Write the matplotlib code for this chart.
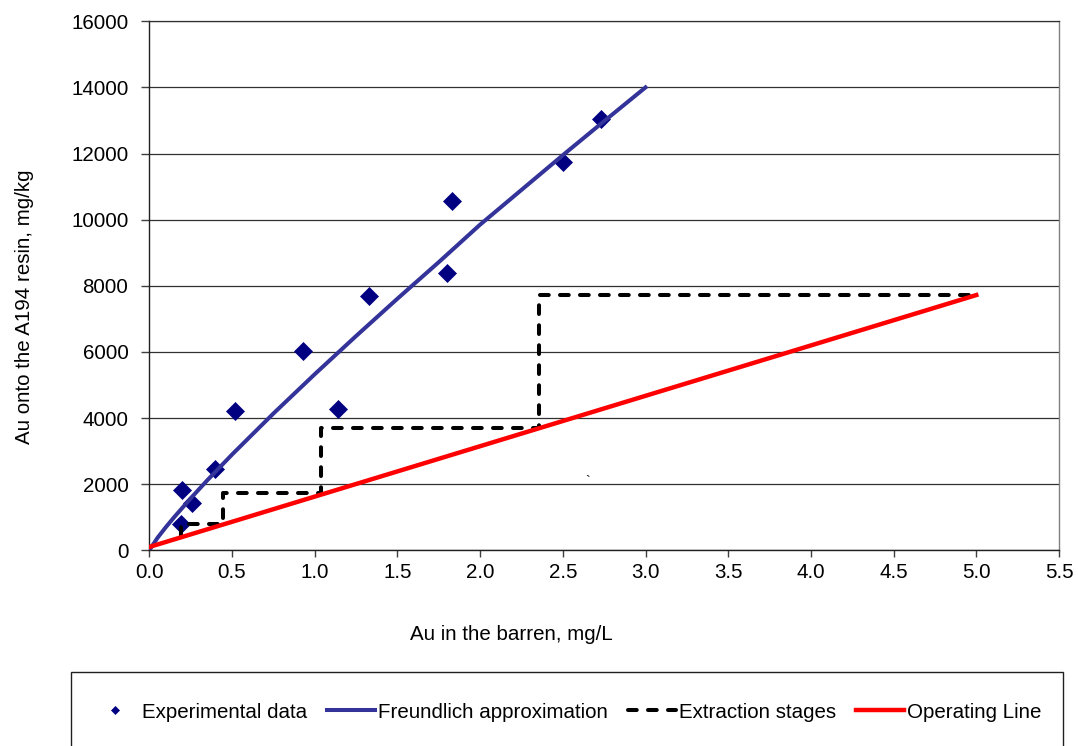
import matplotlib
matplotlib.use("Agg")
from matplotlib import pyplot as plt
from matplotlib.patches import Rectangle

plt.rcParams['font.family'] = ['Liberation Sans', 'DejaVu Sans']
plt.rcParams['lines.scale_dashes'] = False

# experimental points (Au in barren, Au on resin)
exp_x = [0.19, 0.20, 0.26, 0.40, 0.52, 0.93, 1.14, 1.33, 1.80, 1.83, 2.50, 2.73]
exp_y = [795, 1820, 1420, 2450, 4220, 6040, 4270, 7690, 8380, 10550, 11750, 13040]

# Freundlich approximation
fr_x = [0.0, 0.05, 0.1, 0.15, 0.25, 0.35, 0.5, 0.75, 1.0, 1.25, 1.5, 1.75,
        2.0, 2.25, 2.5, 2.75, 3.0]
fr_y = [0, 380, 700, 1000, 1570, 2115, 2895, 4135, 5325, 6480, 7610, 8715,
        9850, 10900, 11950, 12980, 14000]

# extraction stages staircase
st_x = [0.19, 0.19, 0.447, 0.447, 1.04, 1.04, 2.358, 2.358, 5.0]
st_y = [430, 795, 795, 1740, 1740, 3690, 3690, 7720, 7720]

# operating line
op_x = [0.0, 5.0]
op_y = [100, 7720]

x_ticks = [0.0, 0.5, 1.0, 1.5, 2.0, 2.5, 3.0, 3.5, 4.0, 4.5, 5.0, 5.5]
y_ticks = [0, 2000, 4000, 6000, 8000, 10000, 12000, 14000, 16000]

W, H = 1078, 746
fs = 14.8

fig = plt.figure(figsize=(W / 100, H / 100), dpi=100)
ax = fig.add_axes([149.3 / W, 1 - 550.3 / H, (1059 - 149.3) / W, (550.3 - 21.3) / H])

ax.plot(exp_x, exp_y, ls='none', marker='D', ms=9.6, color='#000080',
        mec='#000080', mew=0.5, label='Experimental data', zorder=3)
ax.plot(fr_x, fr_y, color='#333399', lw=2.9, label='Freundlich approximation',
        zorder=4, solid_joinstyle='round')
ax.plot(st_x, st_y, color='black', lw=2.9, dashes=(6.3, 8.1),
        dash_capstyle='round', solid_joinstyle='round',
        label='Extraction stages', zorder=5)
ax.plot(op_x, op_y, color='#ff0000', lw=3.2, label='Operating Line', zorder=6)

ax.set_xlim(0, 5.5)
ax.set_ylim(0, 16000)
ax.set_xticks(x_ticks)
ax.set_xticklabels([f"{v:.1f}" for v in x_ticks])
ax.set_yticks(y_ticks)
ax.set_yticklabels([str(v) for v in y_ticks])
ax.tick_params(axis='both', direction='out', labelsize=fs, colors='#404040',
               labelcolor='black', width=1)
ax.tick_params(axis='y', length=6, pad=9)
ax.tick_params(axis='x', length=5, pad=4)

ax.yaxis.grid(True, color='#303030', lw=0.9)
ax.set_axisbelow(True)
for side in ['left', 'bottom']:
    ax.spines[side].set_color('#202020')
    ax.spines[side].set_linewidth(1)
ax.spines['top'].set_color('#303030')
ax.spines['top'].set_linewidth(0.9)
ax.spines['right'].set_color('#808080')
ax.spines['right'].set_linewidth(1)

fig.text(25 / W, 1 - 307 / H, 'Au onto the A194 resin, mg/kg', rotation=90,
         ha='center', va='center', fontsize=fs)
fig.text(511 / W, 1 - 634 / H, 'Au in the barren, mg/L',
         ha='center', va='center', fontsize=fs)
fig.text(588 / W, 1 - 482 / H, '`', ha='center', va='center', fontsize=10)

# legend box, cut by the bottom edge
fig.patches.append(Rectangle((71 / W, -0.05), (1063 - 71) / W, 0.05 + 1 - 672 / H,
                             transform=fig.transFigure, fill=False,
                             edgecolor='#202020', lw=1))
leg = fig.legend(loc='center', bbox_to_anchor=(566 / W, 1 - 712 / H), ncol=4,
                 frameon=False, fontsize=fs, handlelength=2.35,
                 handletextpad=0.15, columnspacing=0.95, markerscale=0.45,
                 borderpad=0)

fig.savefig('out.png', dpi=100)
